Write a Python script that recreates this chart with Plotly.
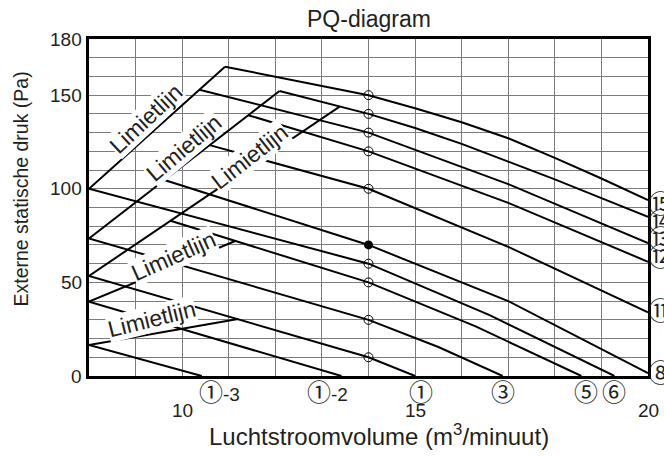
import plotly.graph_objects as go

# ---------------- data ----------------
# fan curves (x = airflow m3/min, y = external static pressure Pa)
c1_3_x = [8.0, 10.42];            c1_3_y = [16.6, 0]
c1_2_x = [8.0, 13.42];            c1_2_y = [39.7, 0]
c1_x = [8.0, 14.0, 15.0];         c1_y = [53.5, 10, 0]
c3_x = [8.0, 14.0, 15.5, 16.88];  c3_y = [73.5, 30, 15.5, 0]
c5_x = [9.75, 14.0, 16.3, 18.57]; c5_y = [82.9, 50, 26.5, 0]
c6_x = [8.0, 14.0, 16.6, 19.28];  c6_y = [100, 60, 32.5, 0]
c8_x = [9.62, 14.0, 17.0, 20.0];  c8_y = [104.7, 70, 40, 1.5]
c11_x = [10.59, 14, 17, 20];      c11_y = [123.3, 100, 69, 34]
c12_x = [11.42, 14, 17, 20];      c12_y = [139.3, 120, 92.5, 61]
c13_x = [10.37, 14, 17, 20];      c13_y = [152.9, 130, 102.5, 71]
c14_x = [12.09, 14, 15, 16, 17, 18, 19, 20]
c14_y = [152.2, 140, 132.5, 124, 114.5, 105, 95, 85]
c15_x = [10.92, 14, 15, 16, 17, 18, 19, 20]
c15_y = [165.2, 150, 143, 135.5, 127, 116.5, 105.5, 94]

# limit lines ("Limietlijn")
L1_x = [8, 10.92]; L1_y = [100, 165.2]
L2_x = [8, 12.09]; L2_y = [73.5, 152.2]
L3_x = [8, 13.38]; L3_y = [53.5, 143.9]
L4_x = [8, 11.14]; L4_y = [39.7, 72.1]
L5_x = [8, 11.2];  L5_y = [16.6, 30.5]

# operating points at 14 m3/min
pt_x = 14
open_pts_y = [150, 140, 130, 120, 100, 60, 50, 30, 10]
filled_pts_y = [70]

# labels
bottom_circ = ["①", "①", "①", "③", "⑤", "⑥"]
bottom_suffix = ["-3", "-2", "", "", "", ""]
bottom_label_x = [10.81, 13.11, 15.13, 16.88, 18.67, 19.28]
right_labels = ["⑮", "⑭", "⑬", "⑫", "⑪", "⑧"]
right_label_y = [93, 83.5, 74, 64.5, 36, 2.5]
limit_text = "Limietlijn"
limit_label_x = [9.21, 10.03, 11.44, 9.82, 9.35]
limit_label_y = [137.5, 122.0, 117.0, 64.0, 30.5]
limit_label_angle = [-43, -40, -38, -24, -14]

x_ticks = [10, 15, 20]
y_ticks = [0, 50, 100, 150, 180]

# ---------------- figure ----------------
FONT = "Liberation Sans, Arial, Noto Sans CJK JP, sans-serif"
CIRC_FONT = "Noto Sans CJK JP, DejaVu Sans, sans-serif"
TXT = "#231f20"
fig = go.Figure()

curves = [(c1_3_x, c1_3_y), (c1_2_x, c1_2_y), (c1_x, c1_y), (c3_x, c3_y),
          (c5_x, c5_y), (c6_x, c6_y), (c8_x, c8_y), (c11_x, c11_y),
          (c12_x, c12_y), (c13_x, c13_y), (c14_x, c14_y), (c15_x, c15_y)]
for cx, cy in curves:
    fig.add_trace(go.Scatter(x=cx, y=cy, mode="lines",
                             line=dict(color="black", width=2),
                             hoverinfo="skip", showlegend=False))
for lx, ly in [(L1_x, L1_y), (L2_x, L2_y), (L3_x, L3_y), (L4_x, L4_y), (L5_x, L5_y)]:
    fig.add_trace(go.Scatter(x=lx, y=ly, mode="lines",
                             line=dict(color="black", width=2),
                             hoverinfo="skip", showlegend=False))

fig.add_trace(go.Scatter(x=[pt_x] * len(open_pts_y), y=open_pts_y, mode="markers",
                         marker=dict(symbol="circle-open", size=9,
                                     color="black", line=dict(width=1)),
                         hoverinfo="skip", showlegend=False))
fig.add_trace(go.Scatter(x=[pt_x] * len(filled_pts_y), y=filled_pts_y, mode="markers",
                         marker=dict(symbol="circle", size=9, color="black"),
                         hoverinfo="skip", showlegend=False))

ann = []
for x, y, a in zip(limit_label_x, limit_label_y, limit_label_angle):
    ann.append(dict(x=x, y=y, xref="x", yref="y", text=limit_text, textangle=a,
                    showarrow=False, bgcolor="white", borderpad=0,
                    font=dict(size=23, color=TXT, family=FONT)))
for c, s, x in zip(bottom_circ, bottom_suffix, bottom_label_x):
    txt = (f"<span style='font-family:{CIRC_FONT};font-size:24px'>{c}</span>"
           f"<span style='font-family:Liberation Sans;font-size:19px'>{s}</span>")
    ann.append(dict(x=x, y=0, xref="x", yref="paper", yanchor="middle", yshift=-14,
                    text=txt, showarrow=False,
                    font=dict(size=19, color=TXT, family=FONT)))
for t, y in zip(right_labels, right_label_y):
    ann.append(dict(x=1, y=y, xref="paper", yref="y", text=t, showarrow=False,
                    xanchor="left", xshift=-2,
                    font=dict(size=25, color=TXT, family=CIRC_FONT)))
# tick labels
for v in x_ticks:
    ann.append(dict(x=v, y=0, xref="x", yref="paper", yanchor="middle", yshift=-34,
                    text=str(v), showarrow=False,
                    font=dict(size=19, color=TXT, family=FONT)))
for v in y_ticks:
    ann.append(dict(x=0, y=v, xref="paper", yref="y", xanchor="right", xshift=-5,
                    text=str(v), showarrow=False,
                    font=dict(size=19, color=TXT, family=FONT)))
# axis titles
ann.append(dict(x=0.5, y=0, xref="paper", yref="paper", yanchor="middle",
                yshift=-59, xshift=10,
                text="Luchtstroomvolume (m<sup>3</sup>/minuut)", showarrow=False,
                font=dict(size=24, color=TXT, family=FONT)))
ann.append(dict(x=0, y=0.5, xref="paper", yref="paper", xanchor="center",
                xshift=-69, yshift=18,
                text="Externe statische druk (Pa)", textangle=-90, showarrow=False,
                font=dict(size=19.5, color=TXT, family=FONT)))
# chart title
ann.append(dict(x=0.5, y=1, xref="paper", yref="paper", yanchor="middle", yshift=20,
                text="PQ-diagram", showarrow=False,
                font=dict(size=23, color=TXT, family=FONT)))

fig.update_layout(
    width=664, height=457,
    margin=dict(l=89, r=16, t=39, b=81),
    paper_bgcolor="white", plot_bgcolor="white",
    annotations=ann,
    font=dict(family=FONT, color=TXT),
)
grid = dict(showgrid=True, gridcolor="#7c7c7c", gridwidth=1.3)
fig.update_xaxes(range=[8, 20], tickvals=x_ticks, ticks="", showticklabels=False,
                 showline=True, mirror=True, linecolor="black", linewidth=2.8,
                 zeroline=False, minor=dict(tick0=8, dtick=1, **grid), **grid)
fig.update_yaxes(range=[0, 180], tickvals=y_ticks, ticks="", showticklabels=False,
                 showline=True, mirror=True, linecolor="black", linewidth=2.8,
                 zeroline=False, minor=dict(tick0=0, dtick=10, **grid), **grid)

# remove the browser's default 8 px page margin so the figure fills the window
fig.write_html("out.html", config={"displayModeBar": False},
               post_script="document.body.style.margin='0';document.body.style.overflow='hidden';")
